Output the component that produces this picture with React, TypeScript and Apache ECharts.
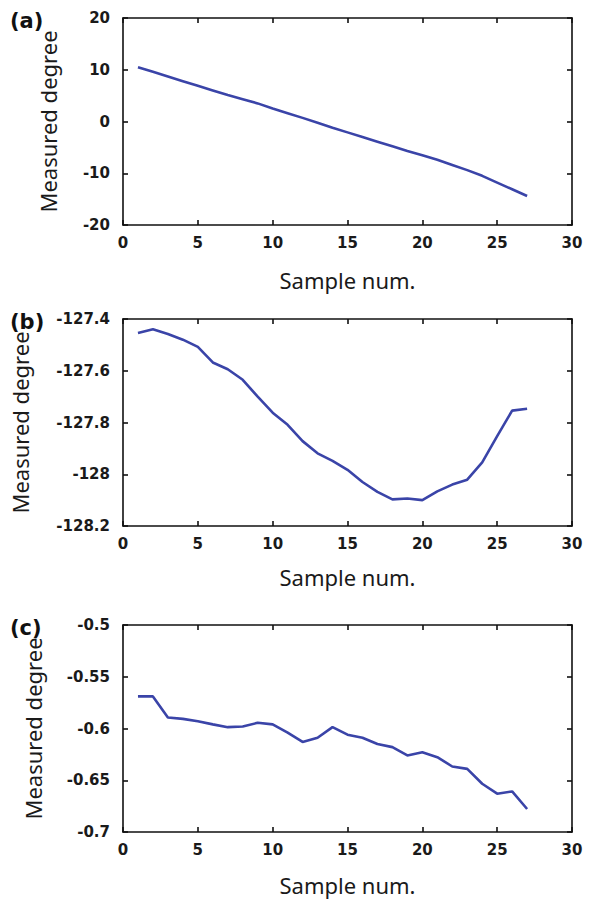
import React, { useEffect, useRef } from "react";
import * as echarts from "echarts";

const sampleNums = [1, 2, 3, 4, 5, 6, 7, 8, 9, 10, 11, 12, 13, 14, 15, 16, 17, 18, 19, 20, 21, 22, 23, 24, 25, 26, 27];

const degreesA = [10.5, 9.6, 8.7, 7.8, 6.9, 6.0, 5.1, 4.3, 3.5, 2.5, 1.6, 0.7, -0.25, -1.2, -2.1, -3.0, -3.9, -4.8, -5.7, -6.5, -7.4, -8.4, -9.4, -10.5, -11.8, -13.1, -14.4];

const degreesB = [-127.454, -127.44, -127.458, -127.48, -127.508, -127.568, -127.594, -127.635, -127.7, -127.762, -127.809, -127.872, -127.919, -127.948, -127.983, -128.03, -128.068, -128.097, -128.094, -128.1, -128.066, -128.04, -128.021, -127.954, -127.853, -127.754, -127.747];

const degreesC = [-0.569, -0.569, -0.5894, -0.5907, -0.593, -0.596, -0.5987, -0.598, -0.5945, -0.596, -0.604, -0.613, -0.609, -0.5987, -0.606, -0.609, -0.615, -0.618, -0.626, -0.623, -0.6277, -0.6367, -0.639, -0.6534, -0.663, -0.6608, -0.6778];

const panelLabels = ["(a)", "(b)", "(c)"];
const xAxisTitle = "Sample num.";
const yAxisTitle = "Measured degree";
const xRange = { min: 0, max: 30, interval: 5 };
const yRanges = [
  { min: -20, max: 20, interval: 10 },
  { min: -128.2, max: -127.4, interval: 0.2 },
  { min: -0.7, max: -0.5, interval: 0.05 },
];

const panelTops = [18, 319, 625];
const yNameGaps = [64, 92, 79];
const xNameGaps = [44, 40, 42];

export default function App() {
  const ref = useRef<HTMLDivElement>(null);

  useEffect(() => {
    if (!ref.current) return;
    const chart = echarts.init(ref.current, undefined, { renderer: "svg" });
    const seriesData = [degreesA, degreesB, degreesC];
    const tickFont = {
      fontFamily: "DejaVu Sans",
      fontWeight: "bold" as const,
      fontSize: 15,
      color: "#1a1a1a",
    };
    const nameFont = { fontFamily: "Noto Sans", fontSize: 22, color: "#1a1a1a" };
    const lineStyle = { color: "#111", width: 1.6 };

    const grids: any[] = [];
    const xAxes: any[] = [];
    const yAxes: any[] = [];
    const series: any[] = [];
    const graphics: any[] = [];

    for (let i = 0; i < 3; i++) {
      grids.push({ left: 123, top: panelTops[i], width: 449, height: 207 });
      xAxes.push({
        gridIndex: i,
        type: "value",
        position: "bottom",
        min: xRange.min,
        max: xRange.max,
        interval: xRange.interval,
        name: xAxisTitle,
        nameLocation: "middle",
        nameGap: xNameGaps[i],
        nameTextStyle: nameFont,
        axisLine: { show: true, onZero: false, lineStyle },
        axisTick: { show: true, inside: true, length: 5, lineStyle },
        axisLabel: { ...tickFont, margin: 10 },
        splitLine: { show: false },
      });
      xAxes.push({
        gridIndex: i,
        type: "value",
        position: "top",
        min: xRange.min,
        max: xRange.max,
        interval: xRange.interval,
        axisLine: { show: true, onZero: false, lineStyle },
        axisTick: { show: true, inside: true, length: 5, lineStyle },
        axisLabel: { show: false },
        splitLine: { show: false },
      });
      const yr = yRanges[i];
      yAxes.push({
        gridIndex: i,
        type: "value",
        position: "left",
        min: yr.min,
        max: yr.max,
        interval: yr.interval,
        name: yAxisTitle,
        nameLocation: "middle",
        nameGap: yNameGaps[i],
        nameTextStyle: nameFont,
        axisLine: { show: true, onZero: false, lineStyle },
        axisTick: { show: true, inside: true, length: 5, lineStyle },
        axisLabel: {
          ...tickFont,
          margin: 13,
          formatter: (v: number) => String(parseFloat(v.toFixed(4))),
        },
        splitLine: { show: false },
      });
      yAxes.push({
        gridIndex: i,
        type: "value",
        position: "right",
        min: yr.min,
        max: yr.max,
        interval: yr.interval,
        axisLine: { show: true, onZero: false, lineStyle },
        axisTick: { show: true, inside: true, length: 5, lineStyle },
        axisLabel: { show: false },
        splitLine: { show: false },
      });
      series.push({
        type: "line",
        xAxisIndex: i * 2,
        yAxisIndex: i * 2,
        data: sampleNums.map((s, k) => [s, seriesData[i][k]]),
        showSymbol: false,
        symbol: "none",
        lineStyle: { color: "#3a44a8", width: 2.6 },
      });
      graphics.push({
        type: "text",
        left: 10,
        top: panelTops[i] - 8,
        style: {
          text: panelLabels[i],
          font: "bold 21px 'DejaVu Sans'",
          fill: "#111",
        },
      });
    }

    chart.setOption({
      animation: false,
      backgroundColor: "#fff",
      grid: grids,
      xAxis: xAxes,
      yAxis: yAxes,
      series,
      graphic: graphics,
    });
    return () => chart.dispose();
  }, []);

  return (
    <div
      ref={ref}
      style={{ position: "fixed", left: 0, top: 0, width: 589, height: 900 }}
    />
  );
}
